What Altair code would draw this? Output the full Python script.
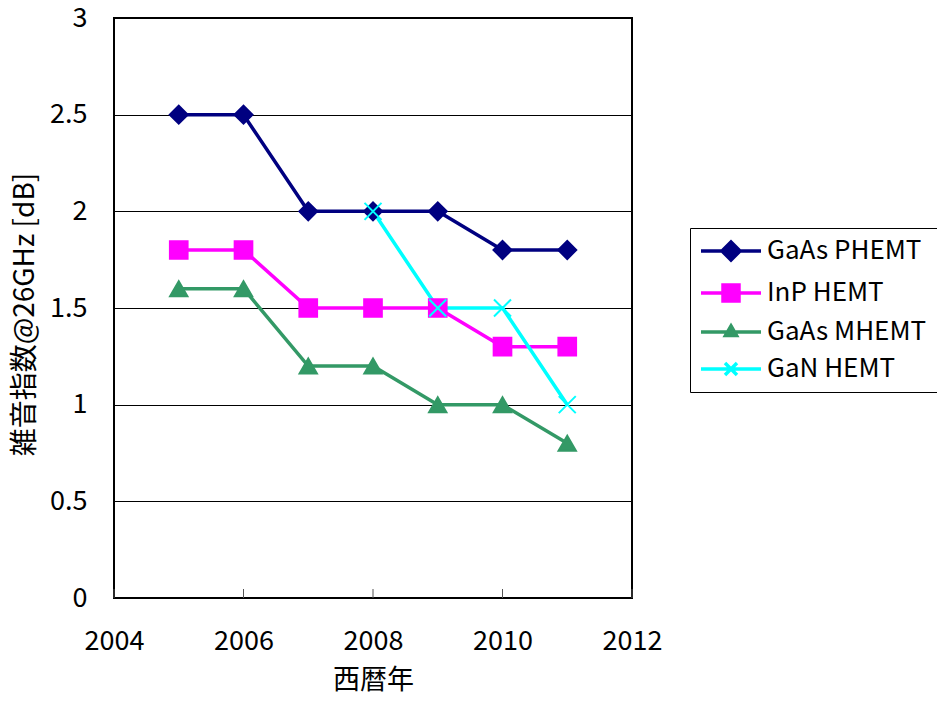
import altair as alt
import pandas as pd

years = [2005, 2006, 2007, 2008, 2009, 2010, 2011]
gaas_phemt = [2.5, 2.5, 2.0, 2.0, 2.0, 1.8, 1.8]
inp_hemt = [1.8, 1.8, 1.5, 1.5, 1.5, 1.3, 1.3]
gaas_mhemt = [1.6, 1.6, 1.2, 1.2, 1.0, 1.0, 0.8]
gan_years = [2008, 2009, 2010, 2011]
gan_hemt = [2.0, 1.5, 1.5, 1.0]

series_names = ["GaAs PHEMT", "InP HEMT", "GaAs MHEMT", "GaN HEMT"]
series_colors = ["#000080", "#FF00FF", "#339966", "#00FFFF"]
point_shapes = ["diamond", "square", "triangle-up", "M-1,-1L1,1M-1,1L1,-1"]
point_sizes = [324, 289, 144, 169]
legend_shapes = [
    "M-3,0L3,0M-0.9,0L0,-0.9L0.9,0L0,0.9Z",
    "M-3,0L3,0M-0.8,-0.8L0.8,-0.8L0.8,0.8L-0.8,0.8Z",
    "M-3,0L3,0M0,-0.6L0.55,0.35L-0.55,0.35Z",
    "M-3,0L3,0M-0.6,-0.6L0.6,0.6M-0.6,0.6L0.6,-0.6",
]

x_ticks = [2004, 2006, 2008, 2010, 2012]
y_ticks = [0, 0.5, 1, 1.5, 2, 2.5, 3]

rows = []
for name, xs, ys in [
    ("GaAs PHEMT", years, gaas_phemt),
    ("InP HEMT", years, inp_hemt),
    ("GaAs MHEMT", years, gaas_mhemt),
    ("GaN HEMT", gan_years, gan_hemt),
]:
    for xv, yv in zip(xs, ys):
        rows.append({"year": xv, "nf": yv, "series": name})
df = pd.DataFrame(rows)
ticks_df = pd.DataFrame({"year": x_ticks})

FONT = "Noto Sans CJK JP"
H = 580

x_enc = alt.X(
    "year:Q",
    scale=alt.Scale(domain=[2004, 2012], nice=False),
    axis=alt.Axis(
        values=x_ticks, format="d", title="西暦年", ticks=False, domain=False,
        grid=False, labelFontSize=27, labelPadding=43, labelBaseline="middle",
        labelFlush=False, labelOverlap=False,
        titleFontSize=27, titleFontWeight="normal", titleY=82,
        titleBaseline="middle", labelColor="black", titleColor="black",
        labelFont=FONT, titleFont=FONT,
    ),
)
y_enc = alt.Y(
    "nf:Q",
    scale=alt.Scale(domain=[0, 3], nice=False),
    axis=alt.Axis(
        values=y_ticks, format="~g", title="雑音指数@26GHz [dB]", ticks=False,
        domain=False, grid=True, gridColor="black", gridWidth=1, gridOpacity=1,
        labelFontSize=27, labelPadding=27, titleFontSize=28, labelFlush=False,
        titleFontWeight="normal", titleX=-89, titleY=296, titleBaseline="middle",
        labelColor="black", titleColor="black", labelFont=FONT, titleFont=FONT,
    ),
)

legend = alt.Legend(
    title=None, orient="none", legendX=576, legendY=210,
    symbolSize=400, symbolStrokeWidth=3.5, symbolOpacity=1,
    symbolOffset=18, labelOffset=23, padding=10, rowPadding=11,
    labelFontSize=26, labelFont=FONT, labelColor="black",
    strokeColor="black", fillColor="white", labelLimit=400,
)

inner_ticks = alt.Chart(ticks_df).mark_rule(color="#555555", strokeWidth=1).encode(
    x=x_enc,
    y=alt.value(H),
    y2=alt.value(H - 9),
)

lines = alt.Chart(df).mark_line(strokeWidth=3.5).encode(
    x=x_enc,
    y=y_enc,
    color=alt.Color("series:N", scale=alt.Scale(domain=series_names, range=series_colors), legend=None),
    detail="series:N",
)

points = alt.Chart(df).mark_point(filled=True, opacity=1, strokeWidth=2).encode(
    x=x_enc,
    y=y_enc,
    fill=alt.Fill("series:N", scale=alt.Scale(domain=series_names, range=series_colors), legend=None),
    stroke=alt.Stroke("series:N", scale=alt.Scale(domain=series_names, range=series_colors), legend=None),
    shape=alt.Shape("series:N", scale=alt.Scale(domain=series_names, range=point_shapes), legend=None),
    size=alt.Size("series:N", scale=alt.Scale(domain=series_names, range=point_sizes), legend=None),
)

# legend carrier: no rows pass the filter, only the legend is drawn from the scales
legend_layer = (
    alt.Chart(df)
    .transform_filter("datum.nf < 0")
    .mark_point(filled=True, opacity=1, size=400, strokeWidth=3.5)
    .encode(
        x=x_enc,
        y=y_enc,
        fill=alt.Fill("series:N", scale=alt.Scale(domain=series_names, range=series_colors), legend=legend),
        stroke=alt.Stroke("series:N", scale=alt.Scale(domain=series_names, range=series_colors), legend=legend),
        shape=alt.Shape("series:N", scale=alt.Scale(domain=series_names, range=legend_shapes), legend=legend),
    )
)

chart = (
    alt.layer(inner_ticks, lines, points, legend_layer)
    .resolve_scale(fill="independent", stroke="independent", shape="independent")
    .properties(
        width=518, height=H,
        autosize=alt.AutoSizeParams(type="none"),
        padding={"left": 106, "top": 10, "right": 305, "bottom": 95},
    )
    .configure(font=FONT)
    .configure_view(stroke="black", strokeWidth=2)
)

chart.save("out.html", embed_options={"renderer": "svg", "actions": False})
